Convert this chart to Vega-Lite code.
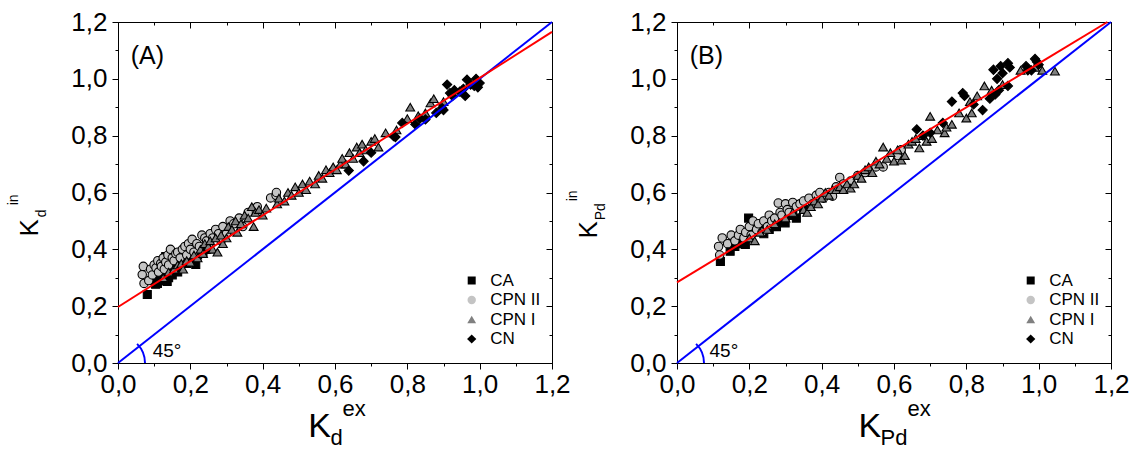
{
"$schema": "https://vega.github.io/schema/vega-lite/v6.json",
"padding": {"left": 6, "top": 8, "right": 5, "bottom": 0},
"config": {
  "font": "Liberation Sans",
  "view": {"stroke": "#000", "strokeWidth": 1},
  "axis": {"grid": false, "domainColor": "#000", "tickColor": "#000", "labelColor": "#000", "titleColor": "#000", "labelFont": "Liberation Sans", "titleFont": "Liberation Sans", "labelFontSize": 26, "titleFontWeight": "normal", "tickWidth": 1, "domainWidth": 1},
  "legend": {"orient": "none", "legendX": 345.2, "legendY": 250, "title": null, "labelFontSize": 17, "labelFont": "Liberation Sans", "labelColor": "#000", "labelOffset": 10, "rowPadding": 1.5, "symbolStrokeColor": "#000000", "symbolStrokeWidth": 1.2, "padding": 0},
  "text": {"font": "Liberation Sans", "color": "#000"}
},
"datasets": {
"ptsA": [
{"s":"CA","x":0.081,"y":0.241},{"s":"CA","x":0.104,"y":0.277},{"s":"CA","x":0.109,"y":0.28},{"s":"CA","x":0.104,"y":0.32},{"s":"CA","x":0.115,"y":0.3},{"s":"CA","x":0.12,"y":0.29},{"s":"CA","x":0.125,"y":0.3},{"s":"CA","x":0.132,"y":0.375},{"s":"CA","x":0.136,"y":0.287},{"s":"CA","x":0.14,"y":0.3},{"s":"CA","x":0.145,"y":0.33},{"s":"CA","x":0.15,"y":0.31},{"s":"CA","x":0.16,"y":0.34},{"s":"CA","x":0.165,"y":0.32},{"s":"CA","x":0.17,"y":0.35},{"s":"CA","x":0.18,"y":0.36},{"s":"CA","x":0.19,"y":0.35},{"s":"CA","x":0.2,"y":0.37},{"s":"CA","x":0.215,"y":0.347},{"s":"CA","x":0.22,"y":0.38},{"s":"CA","x":0.235,"y":0.39},{"s":"CA","x":0.245,"y":0.4},
{"s":"CPN II","x":0.067,"y":0.311},{"s":"CPN II","x":0.07,"y":0.34},{"s":"CPN II","x":0.072,"y":0.28},{"s":"CPN II","x":0.085,"y":0.29},{"s":"CPN II","x":0.09,"y":0.33},{"s":"CPN II","x":0.095,"y":0.31},{"s":"CPN II","x":0.1,"y":0.345},{"s":"CPN II","x":0.105,"y":0.335},{"s":"CPN II","x":0.11,"y":0.36},{"s":"CPN II","x":0.112,"y":0.32},{"s":"CPN II","x":0.118,"y":0.35},{"s":"CPN II","x":0.12,"y":0.34},{"s":"CPN II","x":0.125,"y":0.37},{"s":"CPN II","x":0.128,"y":0.33},{"s":"CPN II","x":0.132,"y":0.355},{"s":"CPN II","x":0.138,"y":0.38},{"s":"CPN II","x":0.14,"y":0.345},{"s":"CPN II","x":0.145,"y":0.4},{"s":"CPN II","x":0.15,"y":0.37},{"s":"CPN II","x":0.155,"y":0.36},{"s":"CPN II","x":0.16,"y":0.385},{"s":"CPN II","x":0.165,"y":0.39},{"s":"CPN II","x":0.172,"y":0.37},{"s":"CPN II","x":0.178,"y":0.4},{"s":"CPN II","x":0.185,"y":0.41},{"s":"CPN II","x":0.19,"y":0.38},{"s":"CPN II","x":0.195,"y":0.42},{"s":"CPN II","x":0.2,"y":0.4},{"s":"CPN II","x":0.205,"y":0.435},{"s":"CPN II","x":0.21,"y":0.39},{"s":"CPN II","x":0.218,"y":0.42},{"s":"CPN II","x":0.225,"y":0.41},{"s":"CPN II","x":0.232,"y":0.45},{"s":"CPN II","x":0.24,"y":0.44},{"s":"CPN II","x":0.245,"y":0.43},{"s":"CPN II","x":0.255,"y":0.455},{"s":"CPN II","x":0.262,"y":0.44},{"s":"CPN II","x":0.27,"y":0.47},{"s":"CPN II","x":0.278,"y":0.455},{"s":"CPN II","x":0.285,"y":0.43},{"s":"CPN II","x":0.29,"y":0.48},{"s":"CPN II","x":0.3,"y":0.455},{"s":"CPN II","x":0.31,"y":0.5},{"s":"CPN II","x":0.32,"y":0.49},{"s":"CPN II","x":0.335,"y":0.51},{"s":"CPN II","x":0.345,"y":0.48},{"s":"CPN II","x":0.36,"y":0.53},{"s":"CPN II","x":0.385,"y":0.55},{"s":"CPN II","x":0.422,"y":0.581},{"s":"CPN II","x":0.437,"y":0.59},{"s":"CPN II","x":0.438,"y":0.6},
{"s":"CPN I","x":0.125,"y":0.3},{"s":"CPN I","x":0.14,"y":0.32},{"s":"CPN I","x":0.155,"y":0.33},{"s":"CPN I","x":0.165,"y":0.345},{"s":"CPN I","x":0.175,"y":0.35},{"s":"CPN I","x":0.18,"y":0.33},{"s":"CPN I","x":0.19,"y":0.36},{"s":"CPN I","x":0.2,"y":0.355},{"s":"CPN I","x":0.21,"y":0.38},{"s":"CPN I","x":0.22,"y":0.37},{"s":"CPN I","x":0.228,"y":0.4},{"s":"CPN I","x":0.235,"y":0.385},{"s":"CPN I","x":0.24,"y":0.42},{"s":"CPN I","x":0.25,"y":0.41},{"s":"CPN I","x":0.255,"y":0.43},{"s":"CPN I","x":0.262,"y":0.4},{"s":"CPN I","x":0.27,"y":0.44},{"s":"CPN I","x":0.275,"y":0.39},{"s":"CPN I","x":0.285,"y":0.45},{"s":"CPN I","x":0.29,"y":0.42},{"s":"CPN I","x":0.3,"y":0.44},{"s":"CPN I","x":0.305,"y":0.48},{"s":"CPN I","x":0.315,"y":0.47},{"s":"CPN I","x":0.325,"y":0.5},{"s":"CPN I","x":0.33,"y":0.46},{"s":"CPN I","x":0.34,"y":0.49},{"s":"CPN I","x":0.35,"y":0.52},{"s":"CPN I","x":0.36,"y":0.51},{"s":"CPN I","x":0.37,"y":0.55},{"s":"CPN I","x":0.375,"y":0.48},{"s":"CPN I","x":0.38,"y":0.53},{"s":"CPN I","x":0.39,"y":0.54},{"s":"CPN I","x":0.4,"y":0.52},{"s":"CPN I","x":0.41,"y":0.545},{"s":"CPN I","x":0.44,"y":0.56},{"s":"CPN I","x":0.445,"y":0.58},{"s":"CPN I","x":0.46,"y":0.57},{"s":"CPN I","x":0.47,"y":0.6},{"s":"CPN I","x":0.48,"y":0.59},{"s":"CPN I","x":0.49,"y":0.62},{"s":"CPN I","x":0.5,"y":0.6},{"s":"CPN I","x":0.51,"y":0.63},{"s":"CPN I","x":0.52,"y":0.61},{"s":"CPN I","x":0.53,"y":0.64},{"s":"CPN I","x":0.545,"y":0.63},{"s":"CPN I","x":0.555,"y":0.66},{"s":"CPN I","x":0.565,"y":0.65},{"s":"CPN I","x":0.575,"y":0.68},{"s":"CPN I","x":0.585,"y":0.67},{"s":"CPN I","x":0.595,"y":0.69},{"s":"CPN I","x":0.605,"y":0.68},{"s":"CPN I","x":0.615,"y":0.7},{"s":"CPN I","x":0.62,"y":0.72},{"s":"CPN I","x":0.63,"y":0.7},{"s":"CPN I","x":0.64,"y":0.74},{"s":"CPN I","x":0.65,"y":0.72},{"s":"CPN I","x":0.66,"y":0.76},{"s":"CPN I","x":0.668,"y":0.74},{"s":"CPN I","x":0.675,"y":0.77},{"s":"CPN I","x":0.685,"y":0.75},{"s":"CPN I","x":0.7,"y":0.78},{"s":"CPN I","x":0.71,"y":0.79},{"s":"CPN I","x":0.72,"y":0.76},{"s":"CPN I","x":0.74,"y":0.81},{"s":"CPN I","x":0.77,"y":0.82},{"s":"CPN I","x":0.8,"y":0.86},{"s":"CPN I","x":0.808,"y":0.9},{"s":"CPN I","x":0.83,"y":0.87},{"s":"CPN I","x":0.85,"y":0.88},{"s":"CPN I","x":0.864,"y":0.915},{"s":"CPN I","x":0.873,"y":0.93},{"s":"CPN I","x":0.9,"y":0.92},{"s":"CPN I","x":0.95,"y":0.96},
{"s":"CN","x":0.638,"y":0.677},{"s":"CN","x":0.679,"y":0.71},{"s":"CN","x":0.7,"y":0.74},{"s":"CN","x":0.762,"y":0.798},{"s":"CN","x":0.767,"y":0.795},{"s":"CN","x":0.786,"y":0.845},{"s":"CN","x":0.822,"y":0.84},{"s":"CN","x":0.835,"y":0.86},{"s":"CN","x":0.85,"y":0.857},{"s":"CN","x":0.88,"y":0.88},{"s":"CN","x":0.896,"y":0.897},{"s":"CN","x":0.9,"y":0.89},{"s":"CN","x":0.91,"y":0.98},{"s":"CN","x":0.918,"y":0.95},{"s":"CN","x":0.925,"y":0.94},{"s":"CN","x":0.93,"y":0.96},{"s":"CN","x":0.945,"y":0.955},{"s":"CN","x":0.955,"y":0.965},{"s":"CN","x":0.96,"y":0.94},{"s":"CN","x":0.965,"y":0.997},{"s":"CN","x":0.975,"y":0.98},{"s":"CN","x":0.985,"y":0.975},{"s":"CN","x":0.99,"y":1.0},{"s":"CN","x":0.995,"y":0.97},{"s":"CN","x":1.0,"y":0.985},{"s":"CN","x":0.992,"y":0.99}
],
"ptsB": [
{"s":"CA","x":0.12,"y":0.357},{"s":"CA","x":0.147,"y":0.393},{"s":"CA","x":0.155,"y":0.44},{"s":"CA","x":0.16,"y":0.41},{"s":"CA","x":0.17,"y":0.42},{"s":"CA","x":0.18,"y":0.43},{"s":"CA","x":0.189,"y":0.417},{"s":"CA","x":0.195,"y":0.44},{"s":"CA","x":0.198,"y":0.51},{"s":"CA","x":0.205,"y":0.46},{"s":"CA","x":0.215,"y":0.47},{"s":"CA","x":0.23,"y":0.48},{"s":"CA","x":0.24,"y":0.455},{"s":"CA","x":0.255,"y":0.47},{"s":"CA","x":0.265,"y":0.49},{"s":"CA","x":0.275,"y":0.48},{"s":"CA","x":0.29,"y":0.5},{"s":"CA","x":0.299,"y":0.493},{"s":"CA","x":0.31,"y":0.52},{"s":"CA","x":0.32,"y":0.52},{"s":"CA","x":0.33,"y":0.51},{"s":"CA","x":0.34,"y":0.557},{"s":"CA","x":0.35,"y":0.54},
{"s":"CPN II","x":0.115,"y":0.41},{"s":"CPN II","x":0.118,"y":0.38},{"s":"CPN II","x":0.125,"y":0.44},{"s":"CPN II","x":0.14,"y":0.42},{"s":"CPN II","x":0.15,"y":0.45},{"s":"CPN II","x":0.16,"y":0.43},{"s":"CPN II","x":0.17,"y":0.45},{"s":"CPN II","x":0.175,"y":0.47},{"s":"CPN II","x":0.185,"y":0.44},{"s":"CPN II","x":0.19,"y":0.46},{"s":"CPN II","x":0.2,"y":0.48},{"s":"CPN II","x":0.205,"y":0.45},{"s":"CPN II","x":0.21,"y":0.5},{"s":"CPN II","x":0.22,"y":0.47},{"s":"CPN II","x":0.225,"y":0.49},{"s":"CPN II","x":0.235,"y":0.46},{"s":"CPN II","x":0.24,"y":0.5},{"s":"CPN II","x":0.25,"y":0.48},{"s":"CPN II","x":0.255,"y":0.52},{"s":"CPN II","x":0.262,"y":0.5},{"s":"CPN II","x":0.27,"y":0.51},{"s":"CPN II","x":0.28,"y":0.563},{"s":"CPN II","x":0.285,"y":0.53},{"s":"CPN II","x":0.29,"y":0.52},{"s":"CPN II","x":0.3,"y":0.56},{"s":"CPN II","x":0.305,"y":0.54},{"s":"CPN II","x":0.31,"y":0.53},{"s":"CPN II","x":0.32,"y":0.565},{"s":"CPN II","x":0.33,"y":0.55},{"s":"CPN II","x":0.34,"y":0.56},{"s":"CPN II","x":0.35,"y":0.57},{"s":"CPN II","x":0.365,"y":0.58},{"s":"CPN II","x":0.375,"y":0.56},{"s":"CPN II","x":0.385,"y":0.59},{"s":"CPN II","x":0.395,"y":0.6},{"s":"CPN II","x":0.405,"y":0.58},{"s":"CPN II","x":0.42,"y":0.6},{"s":"CPN II","x":0.43,"y":0.587},{"s":"CPN II","x":0.44,"y":0.62},{"s":"CPN II","x":0.45,"y":0.653},{"s":"CPN II","x":0.46,"y":0.63},{"s":"CPN II","x":0.48,"y":0.64},{"s":"CPN II","x":0.5,"y":0.66},{"s":"CPN II","x":0.52,"y":0.67},{"s":"CPN II","x":0.55,"y":0.69},{"s":"CPN II","x":0.57,"y":0.69},{"s":"CPN II","x":0.61,"y":0.73},{"s":"CPN II","x":0.62,"y":0.75},
{"s":"CPN I","x":0.2,"y":0.44},{"s":"CPN I","x":0.215,"y":0.43},{"s":"CPN I","x":0.23,"y":0.46},{"s":"CPN I","x":0.25,"y":0.47},{"s":"CPN I","x":0.27,"y":0.49},{"s":"CPN I","x":0.3,"y":0.51},{"s":"CPN I","x":0.32,"y":0.53},{"s":"CPN I","x":0.35,"y":0.54},{"s":"CPN I","x":0.36,"y":0.53},{"s":"CPN I","x":0.37,"y":0.55},{"s":"CPN I","x":0.38,"y":0.57},{"s":"CPN I","x":0.39,"y":0.56},{"s":"CPN I","x":0.4,"y":0.58},{"s":"CPN I","x":0.41,"y":0.6},{"s":"CPN I","x":0.42,"y":0.59},{"s":"CPN I","x":0.43,"y":0.61},{"s":"CPN I","x":0.44,"y":0.61},{"s":"CPN I","x":0.45,"y":0.62},{"s":"CPN I","x":0.46,"y":0.61},{"s":"CPN I","x":0.47,"y":0.63},{"s":"CPN I","x":0.48,"y":0.615},{"s":"CPN I","x":0.49,"y":0.63},{"s":"CPN I","x":0.5,"y":0.66},{"s":"CPN I","x":0.51,"y":0.65},{"s":"CPN I","x":0.52,"y":0.68},{"s":"CPN I","x":0.53,"y":0.69},{"s":"CPN I","x":0.54,"y":0.67},{"s":"CPN I","x":0.55,"y":0.71},{"s":"CPN I","x":0.56,"y":0.7},{"s":"CPN I","x":0.57,"y":0.76},{"s":"CPN I","x":0.58,"y":0.72},{"s":"CPN I","x":0.59,"y":0.74},{"s":"CPN I","x":0.6,"y":0.71},{"s":"CPN I","x":0.61,"y":0.75},{"s":"CPN I","x":0.62,"y":0.714},{"s":"CPN I","x":0.63,"y":0.73},{"s":"CPN I","x":0.64,"y":0.77},{"s":"CPN I","x":0.65,"y":0.78},{"s":"CPN I","x":0.66,"y":0.79},{"s":"CPN I","x":0.67,"y":0.757},{"s":"CPN I","x":0.68,"y":0.8},{"s":"CPN I","x":0.69,"y":0.78},{"s":"CPN I","x":0.7,"y":0.868},{"s":"CPN I","x":0.705,"y":0.79},{"s":"CPN I","x":0.72,"y":0.82},{"s":"CPN I","x":0.74,"y":0.81},{"s":"CPN I","x":0.745,"y":0.83},{"s":"CPN I","x":0.76,"y":0.84},{"s":"CPN I","x":0.78,"y":0.88},{"s":"CPN I","x":0.8,"y":0.862},{"s":"CPN I","x":0.81,"y":0.92},{"s":"CPN I","x":0.815,"y":0.88},{"s":"CPN I","x":0.83,"y":0.94},{"s":"CPN I","x":0.85,"y":0.975},{"s":"CPN I","x":0.87,"y":0.96},{"s":"CPN I","x":0.9,"y":0.98},{"s":"CPN I","x":0.95,"y":1.03},{"s":"CPN I","x":1.01,"y":1.03},{"s":"CPN I","x":1.045,"y":1.027},{"s":"CPN I","x":0.99,"y":1.04},
{"s":"CN","x":0.663,"y":0.822},{"s":"CN","x":0.68,"y":0.8},{"s":"CN","x":0.7,"y":0.81},{"s":"CN","x":0.735,"y":0.845},{"s":"CN","x":0.76,"y":0.92},{"s":"CN","x":0.79,"y":0.95},{"s":"CN","x":0.795,"y":0.94},{"s":"CN","x":0.82,"y":0.91},{"s":"CN","x":0.845,"y":0.89},{"s":"CN","x":0.865,"y":0.93},{"s":"CN","x":0.875,"y":1.032},{"s":"CN","x":0.88,"y":0.945},{"s":"CN","x":0.885,"y":1.0},{"s":"CN","x":0.89,"y":0.96},{"s":"CN","x":0.895,"y":1.045},{"s":"CN","x":0.9,"y":1.02},{"s":"CN","x":0.915,"y":1.055},{"s":"CN","x":0.915,"y":0.975},{"s":"CN","x":0.92,"y":1.04},{"s":"CN","x":0.965,"y":1.045},{"s":"CN","x":0.97,"y":1.03},{"s":"CN","x":0.98,"y":1.03},{"s":"CN","x":0.99,"y":1.07},{"s":"CN","x":1.0,"y":1.05},{"s":"CN","x":0.995,"y":1.06}
]
},
"spacing": 125,
"bounds": "flush",
"resolve": {"scale": {"x": "independent", "y": "independent", "shape": "independent", "fill": "independent", "size": "independent"}, "legend": {"shape": "independent", "fill": "independent", "size": "independent"}},
"hconcat": [
{
  "width": 434, "height": 341,
  "resolve": {"axis": {"x": "independent", "y": "independent"}},
  "layer": [
    {
      "data": {"name": "ptsA"},
      "mark": {"type": "point", "filled": true, "opacity": 1, "stroke": "#000000", "strokeWidth": 1.1, "strokeOpacity": 1},
      "encoding": {
        "x": {"field": "x", "type": "quantitative", "scale": {"domain": [0, 1.2], "nice": false, "zero": false},
          "axis": {"orient": "bottom", "values": [0,0.1,0.2,0.3,0.4,0.5,0.6,0.7,0.8,0.9,1,1.1,1.2], "tickSize": {"condition": {"test": "round(datum.value*10)%2==1", "value": 3}, "value": 6}, "labelExpr": "round(datum.value*10)%2==0 ? replace(format(datum.value,'.1f'),'.',',') : ''", "labelOverlap": false, "labelFlush": false, "labelPadding": 2, "labelFontSize": 26, "labelFont": "Liberation Sans", "title": "K", "titleFontSize": 34, "titleX": 201.2, "titleY": 73.3, "titleBaseline": "alphabetic", "titleAlign": "center"}},
        "y": {"field": "y", "type": "quantitative", "scale": {"domain": [0, 1.2], "nice": false, "zero": false},
          "axis": {"orient": "left", "values": [0,0.1,0.2,0.3,0.4,0.5,0.6,0.7,0.8,0.9,1,1.1,1.2], "tickSize": {"condition": {"test": "round(datum.value*10)%2==1", "value": 3}, "value": 6}, "labelExpr": "round(datum.value*10)%2==0 ? replace(format(datum.value,'.1f'),'.',',') : ''", "labelOverlap": false, "labelFlush": false, "labelPadding": 5, "labelFontSize": 26, "labelFont": "Liberation Sans", "title": "K", "titleFontSize": 26, "titleAngle": 270, "titleX": -80.3, "titleY": 205.3, "titleBaseline": "alphabetic", "titleAlign": "center"}},
        "shape": {"field": "s", "type": "nominal", "scale": {"domain": ["CA", "CPN II", "CPN I", "CN"], "range": ["square", "circle", "triangle-up", "diamond"]}, "legend": {"title": null, "labelFontSize": 17}},
        "fill": {"field": "s", "type": "nominal", "scale": {"domain": ["CA", "CPN II", "CPN I", "CN"], "range": ["#000000", "#c4c4c4", "#808080", "#000000"]}, "legend": {"title": null, "labelFontSize": 17}},
        "size": {"field": "s", "type": "nominal", "scale": {"domain": ["CA", "CPN II", "CPN I", "CN"], "range": [64, 85, 130, 120]}, "legend": {"title": null, "labelFontSize": 17}}
      }
    },
    {
      "data": {"values": [{"x": 0, "y": 0}, {"x": 1.2, "y": 1.2}]},
      "mark": {"type": "line", "color": "#0000ff", "strokeWidth": 2},
      "encoding": {
        "x": {"field": "x", "type": "quantitative", "scale": {"domain": [0, 1.2], "nice": false, "zero": false},
          "axis": {"orient": "top", "values": [0,0.1,0.2,0.3,0.4,0.5,0.6,0.7,0.8,0.9,1,1.1,1.2], "tickSize": {"condition": {"test": "round(datum.value*10)%2==1", "value": -3}, "value": -6}, "labels": false, "title": null}},
        "y": {"field": "y", "type": "quantitative", "scale": {"domain": [0, 1.2], "nice": false, "zero": false},
          "axis": {"orient": "right", "values": [0,0.1,0.2,0.3,0.4,0.5,0.6,0.7,0.8,0.9,1,1.1,1.2], "tickSize": {"condition": {"test": "round(datum.value*10)%2==1", "value": -3}, "value": -6}, "labels": false, "title": null}}
      }
    },
    {
      "data": {"values": [{"x": 0, "y": 0.197}, {"x": 1.2, "y": 1.165}]},
      "mark": {"type": "line", "color": "#ff0000", "strokeWidth": 2},
      "encoding": {
        "x": {"field": "x", "type": "quantitative", "scale": {"domain": [0, 1.2], "nice": false, "zero": false}, "axis": null},
        "y": {"field": "y", "type": "quantitative", "scale": {"domain": [0, 1.2], "nice": false, "zero": false}, "axis": null}
      }
    },
    {
      "data": {"values": [{"x": 0, "y": 0}]},
      "mark": {"type": "point", "shape": "M 0.7071 -0.7071 A 1 1 0 0 1 1 0", "size": 2916, "filled": false, "stroke": "#0000ff", "strokeWidth": 2, "opacity": 1},
      "encoding": {
        "x": {"field": "x", "type": "quantitative", "scale": {"domain": [0, 1.2], "nice": false, "zero": false}, "axis": null},
        "y": {"field": "y", "type": "quantitative", "scale": {"domain": [0, 1.2], "nice": false, "zero": false}, "axis": null}
      }
    },
    {
      "data": {"values": [{"x": 0.035, "y": 1.079, "t": "(A)"}]},
      "mark": {"type": "text", "fontSize": 25, "align": "left", "baseline": "middle"},
      "encoding": {
        "x": {"field": "x", "type": "quantitative", "scale": {"domain": [0, 1.2], "nice": false, "zero": false}, "axis": null},
        "y": {"field": "y", "type": "quantitative", "scale": {"domain": [0, 1.2], "nice": false, "zero": false}, "axis": null},
        "text": {"field": "t"}
      }
    },
    {
      "data": {"values": [{"x": 0.096, "y": 0.02, "t": "45°"}]},
      "mark": {"type": "text", "fontSize": 19, "align": "left", "baseline": "alphabetic"},
      "encoding": {
        "x": {"field": "x", "type": "quantitative", "scale": {"domain": [0, 1.2], "nice": false, "zero": false}, "axis": null},
        "y": {"field": "y", "type": "quantitative", "scale": {"domain": [0, 1.2], "nice": false, "zero": false}, "axis": null},
        "text": {"field": "t"}
      }
    },
    {
      "data": {"values": [{"x": 0.5876, "y": -0.289, "t": "d"}, {"x": 0.6207, "y": -0.1876, "t": "ex"}]},
      "mark": {"type": "text", "fontSize": 22, "align": "left", "baseline": "alphabetic", "clip": false},
      "encoding": {
        "x": {"field": "x", "type": "quantitative", "scale": {"domain": [0, 1.2], "nice": false, "zero": false}, "axis": null},
        "y": {"field": "y", "type": "quantitative", "scale": {"domain": [0, 1.2], "nice": false, "zero": false}, "axis": null},
        "text": {"field": "t"}
      }
    },
    {
      "data": {"values": [{"x": -0.1997, "y": 0.5127, "t": "d"}, {"x": -0.2771, "y": 0.555, "t": "in"}]},
      "mark": {"type": "text", "fontSize": 14, "angle": 270, "align": "left", "baseline": "alphabetic", "clip": false},
      "encoding": {
        "x": {"field": "x", "type": "quantitative", "scale": {"domain": [0, 1.2], "nice": false, "zero": false}, "axis": null},
        "y": {"field": "y", "type": "quantitative", "scale": {"domain": [0, 1.2], "nice": false, "zero": false}, "axis": null},
        "text": {"field": "t"}
      }
    }
  ]
},
{
  "width": 434, "height": 341,
  "resolve": {"axis": {"x": "independent", "y": "independent"}},
  "layer": [
    {
      "data": {"name": "ptsB"},
      "mark": {"type": "point", "filled": true, "opacity": 1, "stroke": "#000000", "strokeWidth": 1.1, "strokeOpacity": 1},
      "encoding": {
        "x": {"field": "x", "type": "quantitative", "scale": {"domain": [0, 1.2], "nice": false, "zero": false},
          "axis": {"orient": "bottom", "values": [0,0.1,0.2,0.3,0.4,0.5,0.6,0.7,0.8,0.9,1,1.1,1.2], "tickSize": {"condition": {"test": "round(datum.value*10)%2==1", "value": 3}, "value": 6}, "labelExpr": "round(datum.value*10)%2==0 ? replace(format(datum.value,'.1f'),'.',',') : ''", "labelOverlap": false, "labelFlush": false, "labelPadding": 2, "labelFontSize": 26, "labelFont": "Liberation Sans", "title": "K", "titleFontSize": 34, "titleX": 192.3, "titleY": 73.3, "titleBaseline": "alphabetic", "titleAlign": "center"}},
        "y": {"field": "y", "type": "quantitative", "scale": {"domain": [0, 1.2], "nice": false, "zero": false},
          "axis": {"orient": "left", "values": [0,0.1,0.2,0.3,0.4,0.5,0.6,0.7,0.8,0.9,1,1.1,1.2], "tickSize": {"condition": {"test": "round(datum.value*10)%2==1", "value": 3}, "value": 6}, "labelExpr": "round(datum.value*10)%2==0 ? replace(format(datum.value,'.1f'),'.',',') : ''", "labelOverlap": false, "labelFlush": false, "labelPadding": 5, "labelFontSize": 26, "labelFont": "Liberation Sans", "title": "K", "titleFontSize": 26, "titleAngle": 270, "titleX": -80.3, "titleY": 207.3, "titleBaseline": "alphabetic", "titleAlign": "center"}},
        "shape": {"field": "s", "type": "nominal", "scale": {"domain": ["CA", "CPN II", "CPN I", "CN"], "range": ["square", "circle", "triangle-up", "diamond"]}, "legend": {"title": null, "labelFontSize": 17}},
        "fill": {"field": "s", "type": "nominal", "scale": {"domain": ["CA", "CPN II", "CPN I", "CN"], "range": ["#000000", "#c4c4c4", "#808080", "#000000"]}, "legend": {"title": null, "labelFontSize": 17}},
        "size": {"field": "s", "type": "nominal", "scale": {"domain": ["CA", "CPN II", "CPN I", "CN"], "range": [64, 85, 130, 120]}, "legend": {"title": null, "labelFontSize": 17}}
      }
    },
    {
      "data": {"values": [{"x": 0, "y": 0}, {"x": 1.2, "y": 1.2}]},
      "mark": {"type": "line", "color": "#0000ff", "strokeWidth": 2},
      "encoding": {
        "x": {"field": "x", "type": "quantitative", "scale": {"domain": [0, 1.2], "nice": false, "zero": false},
          "axis": {"orient": "top", "values": [0,0.1,0.2,0.3,0.4,0.5,0.6,0.7,0.8,0.9,1,1.1,1.2], "tickSize": {"condition": {"test": "round(datum.value*10)%2==1", "value": -3}, "value": -6}, "labels": false, "title": null}},
        "y": {"field": "y", "type": "quantitative", "scale": {"domain": [0, 1.2], "nice": false, "zero": false},
          "axis": {"orient": "right", "values": [0,0.1,0.2,0.3,0.4,0.5,0.6,0.7,0.8,0.9,1,1.1,1.2], "tickSize": {"condition": {"test": "round(datum.value*10)%2==1", "value": -3}, "value": -6}, "labels": false, "title": null}}
      }
    },
    {
      "data": {"values": [{"x": 0, "y": 0.284}, {"x": 1.19, "y": 1.2}]},
      "mark": {"type": "line", "color": "#ff0000", "strokeWidth": 2},
      "encoding": {
        "x": {"field": "x", "type": "quantitative", "scale": {"domain": [0, 1.2], "nice": false, "zero": false}, "axis": null},
        "y": {"field": "y", "type": "quantitative", "scale": {"domain": [0, 1.2], "nice": false, "zero": false}, "axis": null}
      }
    },
    {
      "data": {"values": [{"x": 0, "y": 0}]},
      "mark": {"type": "point", "shape": "M 0.7071 -0.7071 A 1 1 0 0 1 1 0", "size": 2916, "filled": false, "stroke": "#0000ff", "strokeWidth": 2, "opacity": 1},
      "encoding": {
        "x": {"field": "x", "type": "quantitative", "scale": {"domain": [0, 1.2], "nice": false, "zero": false}, "axis": null},
        "y": {"field": "y", "type": "quantitative", "scale": {"domain": [0, 1.2], "nice": false, "zero": false}, "axis": null}
      }
    },
    {
      "data": {"values": [{"x": 0.035, "y": 1.079, "t": "(B)"}]},
      "mark": {"type": "text", "fontSize": 25, "align": "left", "baseline": "middle"},
      "encoding": {
        "x": {"field": "x", "type": "quantitative", "scale": {"domain": [0, 1.2], "nice": false, "zero": false}, "axis": null},
        "y": {"field": "y", "type": "quantitative", "scale": {"domain": [0, 1.2], "nice": false, "zero": false}, "axis": null},
        "text": {"field": "t"}
      }
    },
    {
      "data": {"values": [{"x": 0.09, "y": 0.02, "t": "45°"}]},
      "mark": {"type": "text", "fontSize": 19, "align": "left", "baseline": "alphabetic"},
      "encoding": {
        "x": {"field": "x", "type": "quantitative", "scale": {"domain": [0, 1.2], "nice": false, "zero": false}, "axis": null},
        "y": {"field": "y", "type": "quantitative", "scale": {"domain": [0, 1.2], "nice": false, "zero": false}, "axis": null},
        "text": {"field": "t"}
      }
    },
    {
      "data": {"values": [{"x": 0.563, "y": -0.289, "t": "Pd"}, {"x": 0.6376, "y": -0.1876, "t": "ex"}]},
      "mark": {"type": "text", "fontSize": 22, "align": "left", "baseline": "alphabetic", "clip": false},
      "encoding": {
        "x": {"field": "x", "type": "quantitative", "scale": {"domain": [0, 1.2], "nice": false, "zero": false}, "axis": null},
        "y": {"field": "y", "type": "quantitative", "scale": {"domain": [0, 1.2], "nice": false, "zero": false}, "axis": null},
        "text": {"field": "t"}
      }
    },
    {
      "data": {"values": [{"x": -0.1997, "y": 0.502, "t": "Pd"}, {"x": -0.2771, "y": 0.569, "t": "in"}]},
      "mark": {"type": "text", "fontSize": 14, "angle": 270, "align": "left", "baseline": "alphabetic", "clip": false},
      "encoding": {
        "x": {"field": "x", "type": "quantitative", "scale": {"domain": [0, 1.2], "nice": false, "zero": false}, "axis": null},
        "y": {"field": "y", "type": "quantitative", "scale": {"domain": [0, 1.2], "nice": false, "zero": false}, "axis": null},
        "text": {"field": "t"}
      }
    }
  ]
}
]
}
